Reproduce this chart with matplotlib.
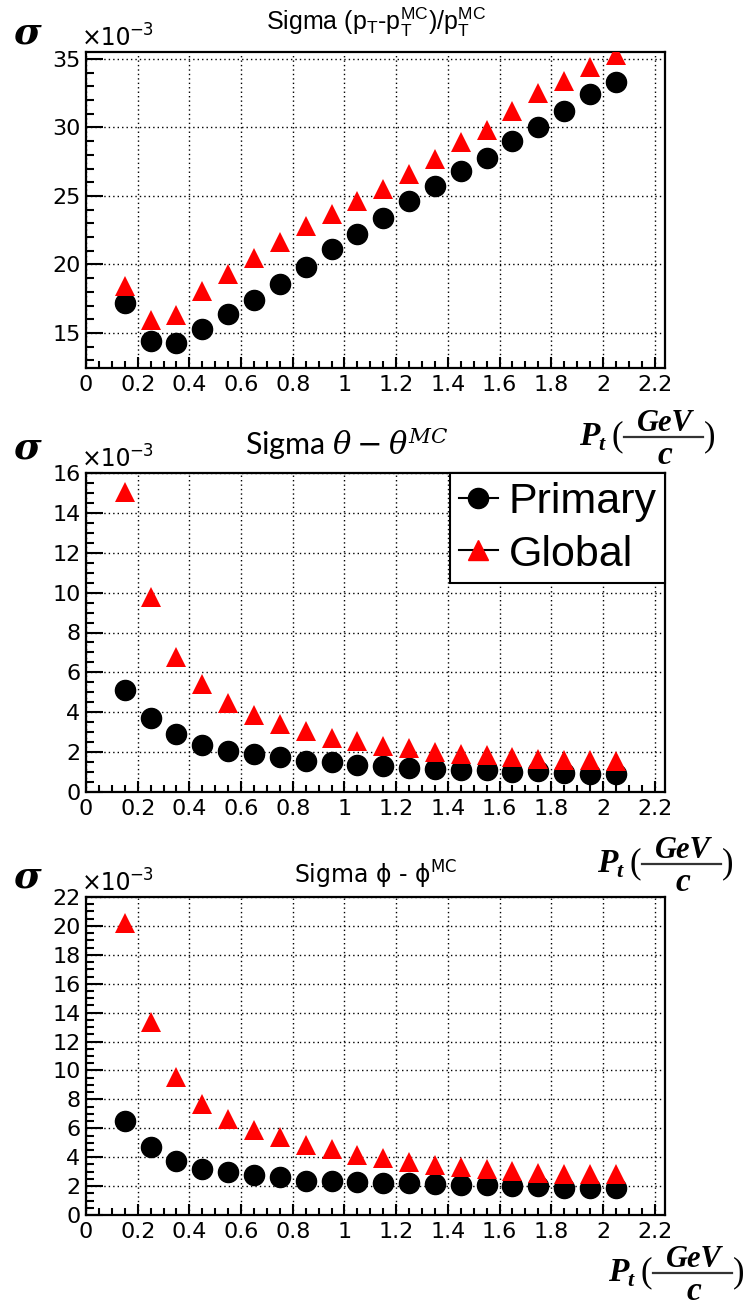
import numpy as np
import matplotlib
matplotlib.use("Agg")
import matplotlib.pyplot as plt
from matplotlib.ticker import MultipleLocator, FormatStrFormatter
from matplotlib.lines import Line2D

plt.rcParams['font.family'] = ['DejaVu Sans']
plt.rcParams['mathtext.fontset'] = 'custom'
plt.rcParams['mathtext.rm'] = 'Liberation Sans'
plt.rcParams['mathtext.it'] = 'Liberation Sans:italic'
plt.rcParams['mathtext.bf'] = 'Liberation Sans:bold'

# Pt bin centres, GeV/c
pt = [0.15, 0.25, 0.35, 0.45, 0.55, 0.65, 0.75, 0.85, 0.95, 1.05,
      1.15, 1.25, 1.35, 1.45, 1.55, 1.65, 1.75, 1.85, 1.95, 2.05]

# resolutions, units of 1e-3
sig_pt_primary = [17.2, 14.4, 14.3, 15.3, 16.4, 17.4, 18.6, 19.8, 21.1, 22.2,
                  23.4, 24.6, 25.7, 26.8, 27.8, 29.0, 30.0, 31.2, 32.4, 33.3]
sig_pt_global = [18.4, 15.95, 16.35, 18.1, 19.3, 20.5, 21.65, 22.8, 23.7, 24.65,
                 25.5, 26.6, 27.7, 28.9, 29.8, 31.2, 32.5, 33.4, 34.4, 35.3]

sig_theta_primary = [5.13, 3.70, 2.92, 2.37, 2.08, 1.92, 1.75, 1.55, 1.50, 1.37,
                     1.28, 1.20, 1.17, 1.08, 1.08, 1.00, 1.03, 0.95, 0.92, 0.92]
sig_theta_global = [15.06, 9.80, 6.79, 5.40, 4.47, 3.86, 3.39, 3.06, 2.72, 2.56,
                    2.30, 2.20, 2.00, 1.92, 1.85, 1.75, 1.67, 1.63, 1.58, 1.55]

sig_phi_primary = [6.53, 4.71, 3.72, 3.20, 2.99, 2.76, 2.62, 2.35, 2.35, 2.28,
                   2.19, 2.23, 2.12, 2.05, 2.05, 2.00, 2.00, 1.89, 1.89, 1.89]
sig_phi_global = [20.22, 13.32, 9.53, 7.69, 6.62, 5.88, 5.37, 4.82, 4.55, 4.15,
                  3.95, 3.69, 3.46, 3.30, 3.20, 3.07, 2.94, 2.84, 2.84, 2.84]

W, H = 750, 1309
fig = plt.figure(figsize=(W / 100, H / 100), dpi=100)


def px(x, y):
    return x / W, 1 - y / H


def make_axes(top, bottom, ylim, major, minor):
    ax = fig.add_axes([86 / W, 1 - bottom / H, (665 - 86) / W, (bottom - top) / H])
    ax.set_xlim(0, 2.24)
    ax.set_ylim(*ylim)
    ax.xaxis.set_major_locator(MultipleLocator(0.2))
    ax.xaxis.set_minor_locator(MultipleLocator(0.05))
    ax.yaxis.set_major_locator(MultipleLocator(major))
    ax.yaxis.set_minor_locator(MultipleLocator(minor))
    ax.xaxis.set_major_formatter(FormatStrFormatter('%g'))
    ax.yaxis.set_major_formatter(FormatStrFormatter('%g'))
    ax.tick_params(which='both', direction='in', width=1.5, labelsize=16,
                   top=False, right=False)
    ax.tick_params(axis='y', which='major', length=12, pad=4)
    ax.tick_params(axis='y', which='minor', length=6)
    ax.tick_params(axis='x', which='major', length=8, pad=5)
    ax.tick_params(axis='x', which='minor', length=5)
    for s in ax.spines.values():
        s.set_linewidth(1.6)
    ax.grid(True, which='major', color='black', linestyle=(0, (1, 2.2)), linewidth=1.0)
    ax.set_axisbelow(True)
    return ax


def draw(ax, prim, glob):
    ax.plot(pt, prim, 'o', color='black', markersize=14.5, zorder=3)
    ax.plot(pt, glob, '^', color='red', markersize=14.5, markeredgewidth=0, zorder=4)


def header(y_sigma, y_exp):
    fig.text(*px(27, y_sigma), 'σ', family='DejaVu Serif', weight='bold',
             style='italic', fontsize=27, ha='center', va='center')
    fig.text(*px(82, y_exp), '×10', fontsize=17, ha='left', va='baseline')
    fig.text(*px(129, y_exp - 10), '−3', fontsize=12, ha='left', va='baseline')


def pt_label(x0, yline):
    # bold italic serif axis title: P_t (GeV / c)
    kw = dict(family='Liberation Serif', weight='bold', style='italic')
    fig.text(*px(x0, yline + 8), 'P', fontsize=24, ha='left', va='baseline', **kw)
    fig.text(*px(x0 + 19, yline + 13), 't', fontsize=16, ha='left', va='baseline', **kw)
    fig.text(*px(x0 + 38, yline), '(', fontsize=25, ha='center', va='center',
             family='Liberation Serif')
    fig.text(*px(x0 + 86, yline - 6), 'GeV', fontsize=22, ha='center', va='baseline', **kw)
    fig.text(*px(x0 + 86, yline + 27), 'c', fontsize=24, ha='center', va='baseline', **kw)
    fig.add_artist(Line2D([(x0 + 45) / W, (x0 + 124) / W], [1 - yline / H] * 2,
                          color='#333333', linewidth=1.6))
    fig.text(*px(x0 + 131, yline), ')', fontsize=25, ha='center', va='center',
             family='Liberation Serif')


# transverse momentum resolution
ax1 = make_axes(52, 368, (12.45, 35.5), 5, 1)
draw(ax1, sig_pt_primary, sig_pt_global)
header(33, 45)
fig.text(*px(376, 22),
         r'Sigma (p$_{\mathregular{T}}$-p$_{\mathregular{T}}^{\mathregular{MC}}$)/p$_{\mathregular{T}}^{\mathregular{MC}}$',
         family='Liberation Sans', fontsize=18, ha='center', va='center')
pt_label(579, 437)

# polar angle resolution
ax2 = make_axes(473, 792, (0, 16), 2, 0.5)
draw(ax2, sig_theta_primary, sig_theta_global)
header(448, 466)
fig.text(*px(347, 443), r'Sigma $\theta-\theta^{MC}$', family='Lato', fontsize=22,
         ha='center', va='center', math_fontfamily='dejavuserif')
pt_label(597, 864)

handles = [Line2D([], [], color='black', marker='o', markersize=14.5, linewidth=1.5),
           Line2D([], [], color='black', marker='^', markerfacecolor='red',
                  markeredgecolor='red', markersize=14.5, linewidth=1.5)]
leg = ax2.legend(handles, ['Primary', 'Global'], loc='upper right',
                 bbox_to_anchor=(1, 1), borderaxespad=0,
                 prop={'family': 'Liberation Sans', 'size': 31},
                 fancybox=False, edgecolor='black', framealpha=1,
                 handlelength=0.9, handletextpad=0.25, borderpad=0.2,
                 labelspacing=0.3)
leg.get_frame().set_linewidth(1.5)

# azimuthal angle resolution
ax3 = make_axes(897, 1215, (0, 22), 2, 0.5)
draw(ax3, sig_phi_primary, sig_phi_global)
header(877, 890)
fig.text(*px(376, 875), r'Sigma ϕ - ϕ$^{\mathregular{MC}}$', family='DejaVu Sans',
         fontsize=17, ha='center', va='center', math_fontfamily='dejavusans')
pt_label(608, 1273)

fig.savefig('out.png', dpi=100)
